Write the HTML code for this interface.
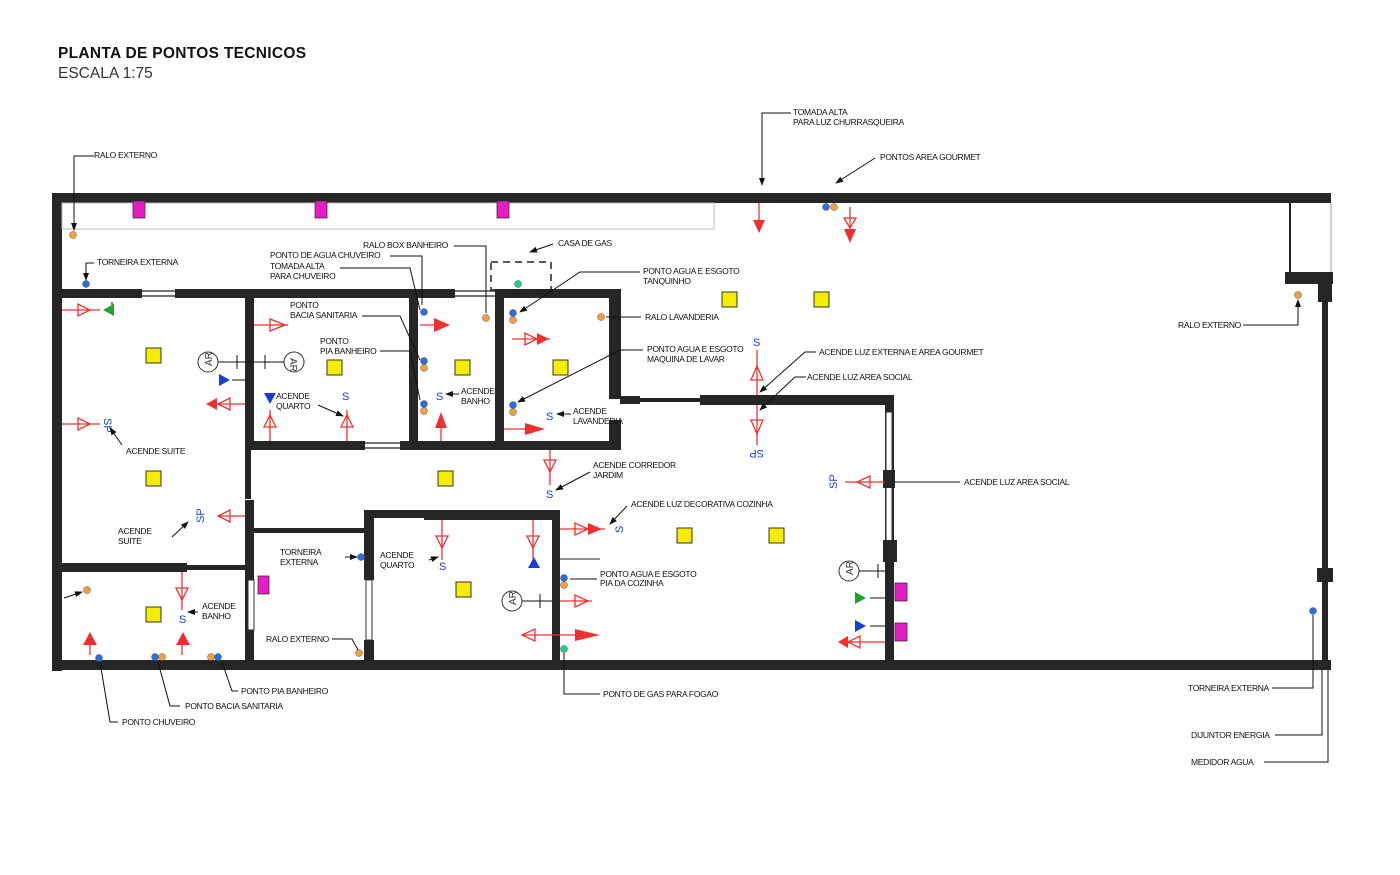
<!DOCTYPE html>
<html><head><meta charset="utf-8"><style>
html,body{margin:0;padding:0;background:#fff;}
svg{display:block;}
text{font-family:"Liberation Sans",sans-serif;}
.l{font-size:8.5px;fill:#111;letter-spacing:-0.3px;}
.w{fill:#262626;}
.ln{stroke:#111;stroke-width:1;fill:none;}
.y{fill:#f5ec00;stroke:#333;stroke-width:1;}
.m{fill:#e81cc4;stroke:#333;stroke-width:0.8;}
.r{stroke:#f03030;stroke-width:1.3;fill:none;}
.rf{fill:#f03030;}
.s{font-size:11px;fill:#1a3fd0;}
.win{stroke:#222;stroke-width:1.2;}
</style></head><body>
<svg width="1400" height="875" viewBox="0 0 1400 875" xmlns="http://www.w3.org/2000/svg">
<defs>
<marker id="a" markerWidth="8" markerHeight="8" refX="7" refY="4" orient="auto"><path d="M0,1 L8,4 L0,7z" fill="#111"/></marker>
</defs>
<text x="58" y="58" style="font-size:15.5px;font-weight:bold;fill:#111;letter-spacing:0.3px">PLANTA DE PONTOS TECNICOS</text>
<text x="58" y="78" style="font-size:15.5px;fill:#333">ESCALA 1:75</text>

<!-- outer walls -->
<rect class="w" x="52" y="193" width="1279" height="10"/>
<rect class="w" x="52" y="193" width="10" height="478"/>
<rect class="w" x="52" y="660" width="1279" height="10"/>
<rect class="w" x="1322" y="290" width="6" height="380"/>
<rect class="w" x="1285" y="272" width="48" height="12"/>
<rect class="w" x="1318" y="284" width="14" height="18"/>
<rect class="w" x="1317" y="568" width="16" height="14"/>
<line x1="1290" y1="203" x2="1290" y2="272" stroke="#222" stroke-width="2"/>
<line x1="1331" y1="203" x2="1331" y2="272" stroke="#999" stroke-width="1"/>
<rect x="62" y="203" width="652" height="26" fill="none" stroke="#bbb" stroke-width="1"/>

<!-- interior walls -->
<rect class="w" x="52" y="289" width="90" height="9"/>
<line class="win" x1="142" y1="291" x2="175" y2="291"/><line class="win" x1="142" y1="296" x2="175" y2="296"/>
<rect class="w" x="175" y="289" width="245" height="9"/>
<rect class="w" x="420" y="289" width="35" height="9"/>
<line class="win" x1="455" y1="291" x2="495" y2="291"/><line class="win" x1="455" y1="296" x2="495" y2="296"/>
<rect class="w" x="495" y="289" width="125" height="9"/>
<rect class="w" x="245" y="289" width="9" height="160"/>
<rect class="w" x="409" y="289" width="9" height="160"/>
<rect class="w" x="495" y="289" width="9" height="160"/>
<rect class="w" x="609" y="289" width="12" height="110"/>
<rect class="w" x="245" y="441" width="120" height="9"/>
<line class="win" x1="365" y1="443" x2="400" y2="443"/><line class="win" x1="365" y1="448" x2="400" y2="448"/>
<rect class="w" x="400" y="441" width="95" height="9"/>
<rect class="w" x="495" y="441" width="125" height="9"/>
<rect class="w" x="609" y="420" width="12" height="30"/>
<rect class="w" x="620" y="396" width="20" height="8"/>
<line x1="640" y1="400" x2="700" y2="400" stroke="#222" stroke-width="4"/>
<rect class="w" x="700" y="395" width="194" height="10"/>
<rect class="w" x="885" y="395" width="9" height="265"/>
<rect x="886" y="412" width="6" height="130" fill="#fff" stroke="#333" stroke-width="1"/>
<rect class="w" x="883" y="470" width="12" height="18"/>
<rect class="w" x="883" y="540" width="14" height="22"/>
<rect class="w" x="245" y="449" width="6" height="50"/>
<rect class="w" x="245" y="500" width="9" height="160"/>
<rect class="w" x="52" y="563" width="135" height="9"/>
<rect class="w" x="187" y="565" width="60" height="5"/>
<rect class="w" x="254" y="528" width="110" height="5"/>
<rect class="w" x="364" y="510" width="10" height="70"/>
<rect x="366" y="580" width="6" height="60" fill="#fff" stroke="#333"/>
<rect class="w" x="364" y="640" width="10" height="25"/>
<rect class="w" x="374" y="510" width="50" height="8"/>
<rect class="w" x="424" y="510" width="136" height="10"/>
<rect class="w" x="552" y="510" width="8" height="155"/>
<rect x="248" y="580" width="6" height="50" fill="#fff" stroke="#333"/>
<line x1="560" y1="559" x2="600" y2="559" stroke="#222" stroke-width="1"/>
<rect x="491" y="262" width="60" height="28" fill="none" stroke="#222" stroke-width="1.5" stroke-dasharray="7,5"/>

<!-- magenta boxes -->
<rect class="m" x="133" y="201" width="12" height="17"/>
<rect class="m" x="315" y="201" width="12" height="17"/>
<rect class="m" x="497" y="201" width="12" height="17"/>
<rect class="m" x="258" y="576" width="11" height="18"/>
<rect class="m" x="895" y="583" width="12" height="18"/>
<rect class="m" x="895" y="623" width="12" height="18"/>

<!-- yellow lights -->
<rect class="y" x="146" y="348" width="15" height="15"/>
<rect class="y" x="146" y="471" width="15" height="15"/>
<rect class="y" x="146" y="607" width="15" height="15"/>
<rect class="y" x="327" y="360" width="15" height="15"/>
<rect class="y" x="455" y="360" width="15" height="15"/>
<rect class="y" x="553" y="360" width="15" height="15"/>
<rect class="y" x="722" y="292" width="15" height="15"/>
<rect class="y" x="814" y="292" width="15" height="15"/>
<rect class="y" x="438" y="471" width="15" height="15"/>
<rect class="y" x="456" y="582" width="15" height="15"/>
<rect class="y" x="677" y="528" width="15" height="15"/>
<rect class="y" x="769" y="528" width="15" height="15"/>

<!-- dots -->
<g stroke="#555" stroke-width="0.5">
<circle cx="73" cy="235" r="3.5" fill="#f0a040"/>
<circle cx="86" cy="284" r="3.5" fill="#2a6fe0"/>
<circle cx="826" cy="207" r="3.5" fill="#2a6fe0"/><circle cx="834" cy="207" r="3.5" fill="#f0a040"/>
<circle cx="518" cy="284" r="3.5" fill="#20d080"/>
<circle cx="424" cy="312" r="3.5" fill="#2a6fe0"/>
<circle cx="486" cy="318" r="3.5" fill="#f0a040"/>
<circle cx="513" cy="313" r="3.5" fill="#2a6fe0"/><circle cx="513" cy="320" r="3.5" fill="#f0a040"/>
<circle cx="601" cy="317" r="3.5" fill="#f0a040"/>
<circle cx="424" cy="361" r="3.5" fill="#2a6fe0"/><circle cx="424" cy="368" r="3.5" fill="#f0a040"/>
<circle cx="424" cy="404" r="3.5" fill="#2a6fe0"/><circle cx="424" cy="411" r="3.5" fill="#f0a040"/>
<circle cx="513" cy="405" r="3.5" fill="#2a6fe0"/><circle cx="513" cy="412" r="3.5" fill="#f0a040"/>
<circle cx="87" cy="590" r="3.5" fill="#f0a040"/>
<circle cx="99" cy="658" r="3.5" fill="#2a6fe0"/>
<circle cx="155" cy="657" r="3.5" fill="#2a6fe0"/><circle cx="162" cy="657" r="3.5" fill="#f0a040"/>
<circle cx="211" cy="657" r="3.5" fill="#f0a040"/><circle cx="218" cy="657" r="3.5" fill="#2a6fe0"/>
<circle cx="361" cy="557" r="3.5" fill="#2a6fe0"/>
<circle cx="359" cy="653" r="3.5" fill="#f0a040"/>
<circle cx="564" cy="578" r="3.5" fill="#2a6fe0"/><circle cx="564" cy="585" r="3.5" fill="#f0a040"/>
<circle cx="564" cy="649" r="3.5" fill="#20d080"/>
<circle cx="1298" cy="295" r="3.5" fill="#f0a040"/>
<circle cx="1313" cy="611" r="3.5" fill="#2a6fe0"/>
</g>

<!-- AR symbols -->
<g font-size="10" fill="#333" stroke="#333">
<circle cx="208" cy="362" r="10" fill="#fff"/><text x="204" y="366" stroke="none" transform="rotate(-90 208 362)">AR</text>
<circle cx="294" cy="362" r="10" fill="#fff"/><text x="290" y="366" stroke="none" transform="rotate(90 294 362)">AR</text>
<circle cx="512" cy="601" r="10" fill="#fff"/><text x="508" y="605" stroke="none" transform="rotate(-90 512 601)">AR</text>
<circle cx="849" cy="571" r="10" fill="#fff"/><text x="845" y="575" stroke="none" transform="rotate(-90 849 571)">AR</text>
</g>
<g class="ln">
<line x1="218" y1="362" x2="284" y2="362"/><line x1="237" y1="355" x2="237" y2="369"/><line x1="265" y1="355" x2="265" y2="369"/>
<line x1="522" y1="601" x2="552" y2="601"/><line x1="540" y1="594" x2="540" y2="608"/>
<line x1="859" y1="571" x2="885" y2="571"/><line x1="878" y1="564" x2="878" y2="578"/>
<line x1="232" y1="380" x2="245" y2="380"/><line x1="870" y1="598" x2="885" y2="598"/><line x1="870" y1="626" x2="885" y2="626"/>
<line x1="112" y1="310" x2="112" y2="302"/>
</g>
<polygon points="219,374 219,386 230,380" fill="#1a3fd0"/>
<polygon points="855,592 855,604 866,598" fill="#20a030"/>
<polygon points="855,620 855,632 866,626" fill="#1a3fd0"/>
<polygon points="114,304 114,316 103,310" fill="#20a030"/>
<polygon points="264,393 276,393 270,404" fill="#1a3fd0"/>
<polygon points="528,568 540,568 534,557" fill="#1a3fd0"/>

<!-- red outlets -->
<g class="r">
<line x1="62" y1="310" x2="100" y2="310"/><polygon points="78,304 78,316 90,310"/>
<line x1="62" y1="424" x2="100" y2="424"/><polygon points="78,418 78,430 90,424"/>
<line x1="254" y1="325" x2="288" y2="325"/><polygon points="270,319 270,331 285,325"/>
<line x1="210" y1="404" x2="245" y2="404"/><polygon points="230,398 230,410 218,404"/>
<line x1="218" y1="516" x2="245" y2="516"/><polygon points="230,510 230,522 218,516"/>
<line x1="512" y1="339" x2="550" y2="339"/><polygon points="525,333 525,345 537,339"/>
<line x1="270" y1="410" x2="270" y2="441"/><polygon points="264,427 276,427 270,415"/>
<line x1="347" y1="410" x2="347" y2="441"/><polygon points="341,427 353,427 347,415"/>
<line x1="441" y1="415" x2="441" y2="441"/>
<line x1="550" y1="450" x2="550" y2="485"/><polygon points="544,460 556,460 550,472"/>
<line x1="182" y1="572" x2="182" y2="610"/><polygon points="176,588 188,588 182,600"/>
<line x1="757" y1="350" x2="757" y2="395"/><polygon points="751,380 763,380 757,366"/>
<line x1="757" y1="405" x2="757" y2="445"/><polygon points="751,420 763,420 757,434"/>
<line x1="845" y1="482" x2="885" y2="482"/><polygon points="870,476 870,488 857,482"/>
<line x1="560" y1="529" x2="605" y2="529"/><polygon points="575,523 575,535 588,529"/>
<line x1="442" y1="520" x2="442" y2="560"/><polygon points="436,536 448,536 442,548"/>
<line x1="533" y1="520" x2="533" y2="560"/><polygon points="527,536 539,536 533,548"/>
<line x1="560" y1="601" x2="592" y2="601"/><polygon points="575,595 575,607 588,601"/>
<line x1="522" y1="635" x2="590" y2="635"/><polygon points="535,629 535,641 522,635"/>
<line x1="845" y1="642" x2="885" y2="642"/><polygon points="860,636 860,648 848,642"/>
<line x1="759" y1="203" x2="759" y2="225"/><line x1="850" y1="207" x2="850" y2="240"/>
<polygon points="844,218 856,218 850,228"/>
<line x1="90" y1="655" x2="90" y2="645"/><line x1="182" y1="655" x2="182" y2="645"/>
<line x1="420" y1="325" x2="440" y2="325"/><line x1="504" y1="429" x2="525" y2="429"/>
</g>
<g class="rf">
<polygon points="434,318 434,332 450,325"/>
<polygon points="537,333 537,345 549,339"/>
<polygon points="217,398 217,410 206,404"/>
<polygon points="435,428 447,428 441,412"/>
<polygon points="525,423 525,435 545,429"/>
<polygon points="753,220 765,220 759,233"/>
<polygon points="844,229 856,229 850,243"/>
<polygon points="83,645 97,645 90,632"/>
<polygon points="176,645 190,645 183,632"/>
<polygon points="588,523 588,535 602,529"/>
<polygon points="575,629 575,641 600,635"/>
<polygon points="848,636 848,648 838,642"/>
</g>

<!-- S / SP switch labels -->
<text class="s" x="104" y="430" transform="rotate(90 110 424)">SP</text>
<text class="s" x="342" y="400">S</text>
<text class="s" x="436" y="400">S</text>
<text class="s" x="546" y="420">S</text>
<text class="s" x="546" y="498">S</text>
<text class="s" x="753" y="346">S</text>
<text class="s" x="748" y="462" transform="rotate(180 756 456)">SP</text>
<text class="s" x="825" y="487" transform="rotate(-90 832 482)">SP</text>
<text class="s" x="192" y="521" transform="rotate(-90 199 516)">SP</text>
<text class="s" x="179" y="623">S</text>
<text class="s" x="439" y="570">S</text>
<text class="s" x="616" y="532" transform="rotate(-90 620 529)">S</text>

<!-- labels & leaders -->
<g class="ln">
<polyline points="94,156 74,156 74,230" marker-end="url(#a)"/>
<polyline points="94,263 86,263 86,280" marker-end="url(#a)"/>
<polyline points="791,113 762,113 762,185" marker-end="url(#a)"/>
<line x1="875" y1="158" x2="836" y2="183" marker-end="url(#a)"/>
<polyline points="454,246 486,246 486,313"/>
<polyline points="390,256 422,256 422,305"/>
<polyline points="340,268 410,268 420,310"/>
<line x1="553" y1="244" x2="530" y2="252" marker-end="url(#a)"/>
<polyline points="640,272 580,272 520,312" marker-end="url(#a)"/>
<line x1="606" y1="317" x2="641" y2="317"/>
<polyline points="362,316 400,316 420,360"/>
<polyline points="380,351 410,351 420,400"/>
<polyline points="643,350 620,350 518,402" marker-end="url(#a)"/>
<line x1="318" y1="405" x2="343" y2="416" marker-end="url(#a)"/>
<line x1="459" y1="394" x2="446" y2="394" marker-end="url(#a)"/>
<line x1="571" y1="414" x2="557" y2="414" marker-end="url(#a)"/>
<polyline points="816,352 805,352 760,392" marker-end="url(#a)"/>
<polyline points="806,377 795,377 760,410" marker-end="url(#a)"/>
<line x1="122" y1="445" x2="110" y2="428" marker-end="url(#a)"/>
<line x1="590" y1="472" x2="556" y2="490" marker-end="url(#a)"/>
<line x1="895" y1="482" x2="960" y2="482"/>
<line x1="627" y1="506" x2="610" y2="524" marker-end="url(#a)"/>
<line x1="172" y1="537" x2="188" y2="522" marker-end="url(#a)"/>
<line x1="345" y1="557" x2="357" y2="557" marker-end="url(#a)"/>
<line x1="429" y1="560" x2="438" y2="557" marker-end="url(#a)"/>
<line x1="597" y1="579" x2="570" y2="579"/>
<line x1="198" y1="612" x2="188" y2="612" marker-end="url(#a)"/>
<line x1="64" y1="598" x2="82" y2="592" marker-end="url(#a)"/>
<polyline points="332,639 352,639 358,650"/>
<polyline points="1243,325 1298,325 1298,300" marker-end="url(#a)"/>
<polyline points="100,662 110,722 118,722"/>
<polyline points="158,662 170,706 180,706"/>
<polyline points="222,662 232,691 238,691"/>
<polyline points="564,653 564,694 600,694"/>
<polyline points="1272,688 1313,688 1313,615"/>
<polyline points="1275,735 1322,735 1322,670"/>
<polyline points="1264,762 1328,762 1328,670"/>
</g>
<g class="l">
<text x="94" y="158">RALO EXTERNO</text>
<text x="97" y="265">TORNEIRA EXTERNA</text>
<text x="793" y="115">TOMADA ALTA</text><text x="793" y="125">PARA LUZ CHURRASQUEIRA</text>
<text x="880" y="160">PONTOS AREA GOURMET</text>
<text x="363" y="248">RALO BOX BANHEIRO</text>
<text x="558" y="246">CASA DE GAS</text>
<text x="270" y="258">PONTO DE AGUA CHUVEIRO</text>
<text x="270" y="269">TOMADA ALTA</text><text x="270" y="279">PARA CHUVEIRO</text>
<text x="643" y="274">PONTO AGUA E ESGOTO</text><text x="643" y="284">TANQUINHO</text>
<text x="290" y="308">PONTO</text><text x="290" y="318">BACIA SANITARIA</text>
<text x="645" y="320">RALO LAVANDERIA</text>
<text x="320" y="344">PONTO</text><text x="320" y="354">PIA BANHEIRO</text>
<text x="647" y="352">PONTO AGUA E ESGOTO</text><text x="647" y="362">MAQUINA DE LAVAR</text>
<text x="819" y="355">ACENDE LUZ EXTERNA E AREA GOURMET</text>
<text x="807" y="380">ACENDE LUZ AREA SOCIAL</text>
<text x="1178" y="328">RALO EXTERNO</text>
<text x="461" y="394">ACENDE</text><text x="461" y="404">BANHO</text>
<text x="276" y="399">ACENDE</text><text x="276" y="409">QUARTO</text>
<text x="573" y="414">ACENDE</text><text x="573" y="424">LAVANDERIA</text>
<text x="126" y="454">ACENDE SUITE</text>
<text x="593" y="468">ACENDE CORREDOR</text><text x="593" y="478">JARDIM</text>
<text x="964" y="485">ACENDE LUZ AREA SOCIAL</text>
<text x="631" y="507">ACENDE LUZ DECORATIVA COZINHA</text>
<text x="118" y="534">ACENDE</text><text x="118" y="544">SUITE</text>
<text x="280" y="555">TORNEIRA</text><text x="280" y="565">EXTERNA</text>
<text x="380" y="558">ACENDE</text><text x="380" y="568">QUARTO</text>
<text x="600" y="577">PONTO AGUA E ESGOTO</text><text x="600" y="586">PIA DA COZINHA</text>
<text x="202" y="609">ACENDE</text><text x="202" y="619">BANHO</text>
<text x="266" y="642">RALO EXTERNO</text>
<text x="241" y="694">PONTO PIA BANHEIRO</text>
<text x="185" y="709">PONTO BACIA SANITARIA</text>
<text x="122" y="725">PONTO CHUVEIRO</text>
<text x="603" y="697">PONTO DE GAS PARA FOGAO</text>
<text x="1188" y="691">TORNEIRA EXTERNA</text>
<text x="1191" y="738">DIJUNTOR ENERGIA</text>
<text x="1191" y="765">MEDIDOR AGUA</text>
</g>
</svg>
</body></html>
